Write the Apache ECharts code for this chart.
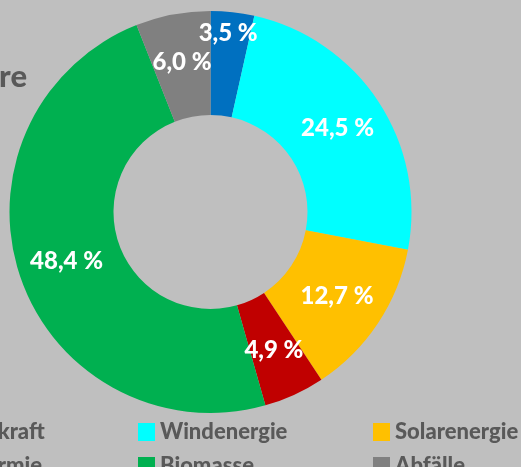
<!DOCTYPE html>
<html>
<head>
<meta charset="utf-8">
<script src="https://cdn.jsdelivr.net/npm/echarts@6/dist/echarts.min.js"></script>
<style>
  html, body { margin: 0; padding: 0; background: #BFBFBF; }
  #chart { width: 521px; height: 467px; }
</style>
</head>
<body>
<div id="chart"></div>
<script>
// Anteile erneuerbarer Energiequellen (%)
const categories = ['Wasserkraft', 'Windenergie', 'Solarenergie', 'Geothermie', 'Biomasse', 'Abfälle']
const shares = [3.5, 24.5, 12.7, 4.9, 48.4, 6.0]
const colors = ['#0070C0', '#00FFFF', '#FFC000', '#C00000', '#00B050', '#808080']

const textColor = '#595959'
const font = 'Lato, "Open Sans", sans-serif'

const chart = echarts.init(document.getElementById('chart'))

chart.setOption({
  backgroundColor: '#BFBFBF',
  animation: false,
  title: {
    text: 'Erneuerbare',
    right: 494,
    top: 61,
    padding: 0,
    textStyle: {
      color: textColor,
      fontFamily: font,
      fontWeight: 900,
      fontSize: 31
    }
  },
  legend: {
    data: categories,
    left: -97,
    top: 421,
    width: 720,
    padding: 0,
    icon: 'rect',
    itemWidth: 17,
    itemHeight: 18,
    itemGap: 12,
    selectedMode: false,
    textStyle: {
      color: textColor,
      fontFamily: font,
      fontWeight: 900,
      fontSize: 22,
      width: 201,
      lineHeight: 14,
      padding: [0, 0, 4, 0]
    }
  },
  series: [{
    type: 'pie',
    center: [210.5, 212],
    radius: [97, 201],
    startAngle: 90,
    clockwise: true,
    silent: true,
    label: {
      position: 'inside',
      color: '#fff',
      fontFamily: font,
      fontWeight: 900,
      fontSize: 24,
      formatter: p => p.value.toFixed(1).replace('.', ',') + ' %'
    },
    labelLine: { show: false },
    data: categories.map((name, i) => ({
      name,
      value: shares[i],
      itemStyle: { color: colors[i] },
      // small slice: label pushed towards the outer edge
      label: i === 0 ? { offset: [1, -28] } : undefined
    }))
  }]
})
</script>
</body>
</html>
